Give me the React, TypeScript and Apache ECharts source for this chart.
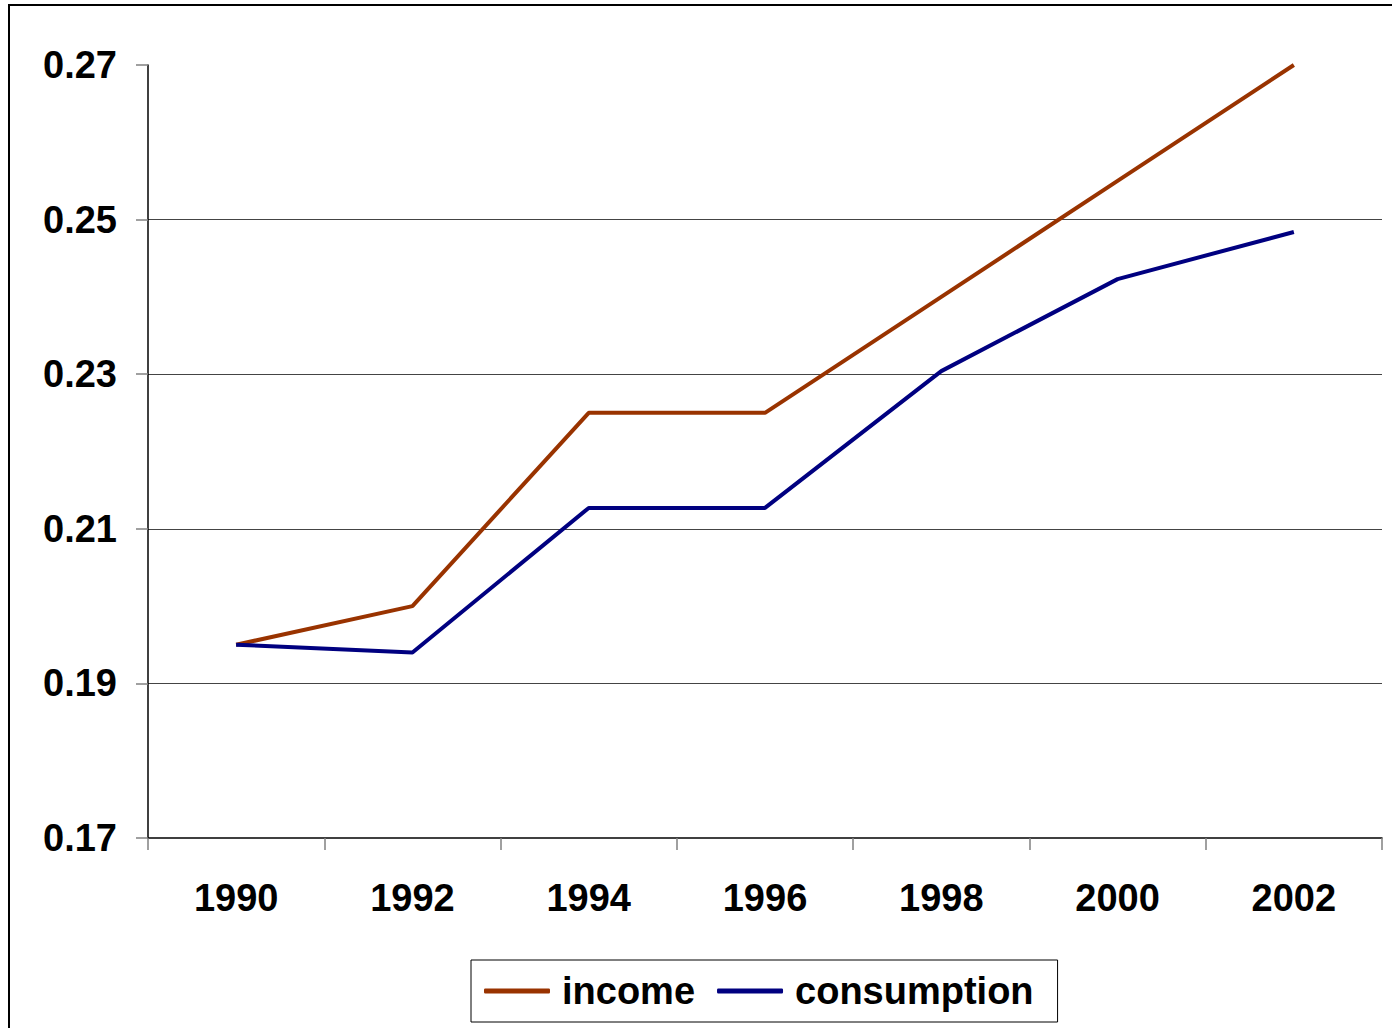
import React, { useEffect, useRef } from "react";
import * as echarts from "echarts";

const years = ["1990", "1992", "1994", "1996", "1998", "2000", "2002"];
const income = [0.195, 0.2, 0.225, 0.225, 0.24, 0.255, 0.27];
const consumption = [0.195, 0.194, 0.2127, 0.2127, 0.2304, 0.2423, 0.2484];
const yMin = 0.17;
const yMax = 0.27;
const yStep = 0.02;

const FONT = "'Liberation Sans', Arial, Helvetica, sans-serif";

export default function App() {
  const ref = useRef<HTMLDivElement>(null);
  useEffect(() => {
    if (!ref.current) return;
    const chart = echarts.init(ref.current, null, { renderer: "svg" });
    chart.setOption({
      animation: false,
      backgroundColor: "#ffffff",
      textStyle: { fontFamily: FONT },
      graphic: [
        {
          type: "rect",
          shape: { x: 9, y: 5, width: 2000, height: 2000 },
          style: { fill: "none", stroke: "#000", lineWidth: 2 },
          silent: true,
        },
      ],
      grid: { left: 148, right: 10, top: 65, bottom: 190 },
      legend: {
        left: 471,
        top: 960,
        orient: "horizontal",
        borderColor: "#000",
        borderWidth: 1,
        padding: [12, 24, 12, 13],
        itemWidth: 66,
        itemHeight: 5,
        itemGap: 22,
        icon: "roundRect",
        textStyle: {
          fontFamily: FONT,
          fontSize: 38,
          fontWeight: "bold",
          color: "#000",
          padding: [0, 0, 0, 7],
        },
        data: ["income", "consumption"],
      },
      xAxis: {
        type: "category",
        data: years,
        boundaryGap: true,
        axisLine: { lineStyle: { color: "#000", width: 1.5 } },
        axisTick: { show: true, length: 12, lineStyle: { color: "#808080", width: 1.5 } },
        axisLabel: {
          fontFamily: FONT,
          fontSize: 38,
          fontWeight: "bold",
          color: "#000",
          margin: 41,
        },
        splitLine: { show: false },
      },
      yAxis: {
        type: "value",
        min: yMin,
        max: yMax,
        interval: yStep,
        axisLine: { show: true, lineStyle: { color: "#000", width: 1.5 } },
        axisTick: { show: true, length: 12, lineStyle: { color: "#808080", width: 1.5 } },
        axisLabel: {
          fontFamily: FONT,
          fontSize: 38,
          fontWeight: "bold",
          color: "#000",
          margin: 31,
          formatter: (v: number) => v.toFixed(2),
        },
        splitLine: {
          show: true,
          showMinLine: false,
          showMaxLine: false,
          lineStyle: { color: "#444", width: 1 },
        },
      },
      series: [
        {
          name: "income",
          type: "line",
          data: income,
          symbol: "none",
          color: "#993300",
          lineStyle: { color: "#993300", width: 4 },
        },
        {
          name: "consumption",
          type: "line",
          data: consumption,
          symbol: "none",
          color: "#000080",
          lineStyle: { color: "#000080", width: 4 },
        },
      ],
    });
    return () => chart.dispose();
  }, []);
  return (
    <div
      ref={ref}
      style={{ position: "absolute", left: 0, top: 0, width: 1392, height: 1028 }}
    />
  );
}
